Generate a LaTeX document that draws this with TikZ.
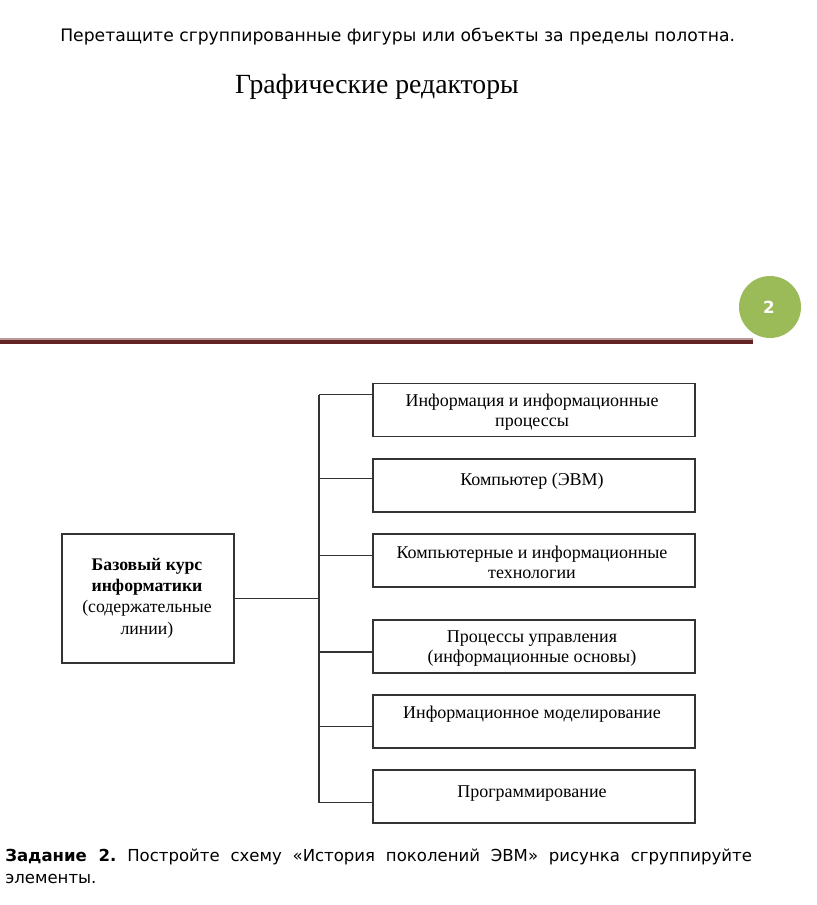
\documentclass[tikz,border=0pt]{standalone}
\usepackage{fontspec}
\setmainfont{Liberation Serif}
\newfontfamily\dejavu{DejaVu Sans}
\definecolor{olivegreen}{HTML}{9BBB59}
\definecolor{darkred}{HTML}{632423}
\definecolor{lightred}{HTML}{B89A9A}
\begin{document}
\frenchspacing
\begin{tikzpicture}[x=0.75pt,y=-0.75pt,
  box/.style={draw=black!80,line width=1.2pt,minimum width=322*0.75pt,minimum height=53*0.75pt,inner sep=0pt},
  boxtext/.style={font=\fontsize{13.5}{15}\selectfont,align=center,inner sep=0pt},
  conn/.style={draw=black!80,line width=1.2pt}]
\useasboundingbox (0,0) rectangle (816,905);
% header
\node[anchor=west,inner sep=0pt,font=\dejavu\fontsize{12.9}{15}\selectfont] (hdr) at (60,37) {Перетащите сгруппированные фигуры или объекты за пределы полотна.};
\node[inner sep=0pt,font=\fontsize{20.8}{25}\selectfont] (title) at (377,87) {Графические редакторы};
% rule and page number
\fill[lightred] (0,337.5) rectangle (753,339.5);
\fill[darkred] (0,340) rectangle (753,344);
\fill[olivegreen] (770,307) circle (31);
\node[text=white,font=\dejavu\bfseries\fontsize{12.5}{14}\selectfont] (pnum) at (769,307) {2};
% left box
\node[draw=black!80,line width=1.2pt,minimum width=172*0.75pt,minimum height=129*0.75pt,inner sep=0pt] (base) at (148,598.5) {};
\node[boxtext,font=\fontsize{13.3}{16}\selectfont] (basetxt) at (147,598) {\textbf{Базовый курс}\\\textbf{информатики}\\(содержательные\\линии)};
% right boxes
\node[box] (b1) at (534,410) {};
\node[box] (b2) at (534,485.5) {};
\node[box] (b3) at (534,560.5) {};
\node[box] (b4) at (534,646.5) {};
\node[box] (b5) at (534,721.5) {};
\node[box] (b6) at (534,796.5) {};
\node[boxtext] (t1) at (532,412) {Информация и информационные\\процессы};
\node[boxtext] (t2) at (532,481) {Компьютер (ЭВМ)};
\node[boxtext] (t3) at (532,562) {Компьютерные и информационные\\технологии};
\node[boxtext] (t4) at (532,649) {Процессы управления\\(информационные основы)};
\node[boxtext] (t5) at (532,714) {Информационное моделирование};
\node[boxtext] (t6) at (532,794) {Программирование};
% connectors
\coordinate (trtop) at (319,394.5);
\coordinate (trbot) at (319,802.5);
\draw[conn] (trtop) -- (trbot);
\draw[conn] (base.east |- 0,598.5) -- (319,598.5);
\draw[conn] (trtop) -- (b1.west |- trtop);
\draw[conn] (319,478.5) -- (b2.west |- 0,478.5);
\draw[conn] (319,555.5) -- (b3.west |- 0,555.5);
\draw[conn] (319,652) -- (b4.west |- 0,652);
\draw[conn] (319,726.5) -- (b5.west |- 0,726.5);
\draw[conn] (trbot) -- (b6.west |- trbot);
% task text
\node[anchor=west,inner sep=0pt,font=\dejavu\fontsize{12.4}{15}\selectfont] (task1) at (5,857) {\makebox[560pt][s]{\textbf{Задание 2.} Постройте схему «История поколений ЭВМ» рисунка сгруппируйте}};
\node[anchor=west,inner sep=0pt,font=\dejavu\fontsize{12.4}{15}\selectfont] (task2) at (5,879) {элементы.};
\end{tikzpicture}
\end{document}
